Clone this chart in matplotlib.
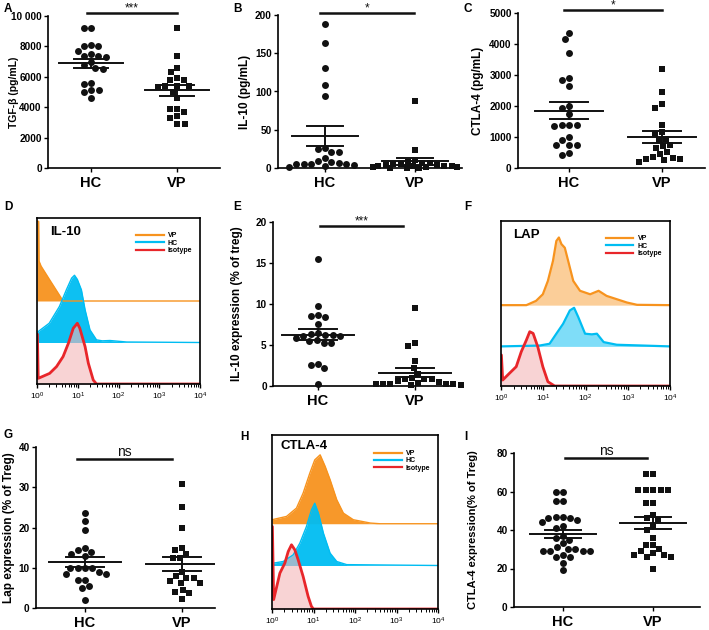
import numpy as np
import matplotlib.pyplot as plt
from matplotlib.lines import Line2D
from matplotlib import font_manager

names = {f.name for f in font_manager.fontManager.ttflist}
plt.rcParams['font.family'] = ['Liberation Sans', 'DejaVu Sans']
NARROW = ['Liberation Sans Narrow', 'Liberation Sans'] if 'Liberation Sans Narrow' in names else ['Liberation Sans']

# ---------------- scatter data ----------------
groups = ['HC', 'VP']

tgf_hc = [9200, 9200, 8100, 8000, 8000, 7700, 7500, 7400, 7400, 7300, 7000, 6800, 6600, 6500, 5600, 5500, 5100, 5100, 5000, 4600]
tgf_vp = [9200, 7400, 6600, 6300, 5900, 5800, 5800, 5400, 5400, 5400, 5300, 5000, 4600, 3900, 3900, 3700, 3400, 3300, 2900, 2900]

il10_hc = [188, 164, 131, 108, 94, 26, 25, 21, 21, 13, 9, 8, 6, 5, 5, 5, 5, 4, 3, 1]
il10_vp = [88, 24, 10, 8, 7, 6, 5, 5, 4, 4, 3, 3, 2, 2, 1, 1, 1, 0.5, 0.5, 0.5]

ctla_hc = [4350, 4150, 3700, 2900, 2850, 2650, 2000, 1950, 1750, 1400, 1400, 1400, 1350, 1000, 900, 750, 750, 750, 480, 420]
ctla_vp = [3200, 2450, 2050, 1950, 1400, 1150, 1100, 950, 900, 750, 700, 650, 500, 450, 350, 330, 300, 280, 250, 200]

il10exp_hc = [15.5, 9.8, 8.6, 8.5, 8.4, 7.6, 6.5, 6.4, 6.2, 6.2, 6.1, 6.1, 5.8, 5.6, 5.5, 5.3, 5.3, 2.7, 2.6, 2.2, 0.3]
il10exp_vp = [9.5, 5.2, 4.9, 3.1, 2.2, 1.5, 1.0, 0.9, 0.8, 0.8, 0.6, 0.5, 0.4, 0.3, 0.3, 0.2, 0.2, 0.2, 0.1, 0.1]

lap_hc = [23.5, 21.5, 19.5, 15, 14.5, 14, 13.5, 13, 10, 10, 10, 10, 9, 8.5, 8.5, 7, 7, 5.5, 5, 2]
lap_vp = [30.7, 25.2, 20, 15, 14.3, 13.5, 12.5, 12.5, 9, 8, 7.5, 7.5, 6.8, 6.3, 6.3, 4.5, 4, 3.7, 2.3]

ctlaexp_hc = [60, 60, 55, 55, 47, 47, 46, 46, 45, 44, 42, 41, 37, 36, 35, 33, 31, 30, 30, 29, 29, 29, 29, 27, 26, 26, 23, 19]
ctlaexp_vp = [69, 69, 61, 61, 61, 61, 61, 54, 54, 48, 46, 45, 42, 40, 36, 32, 32, 30, 29, 28, 27, 27, 26, 26, 20]

# ---------------- flow histograms: (log10 intensity, height) ----------------
d_vp_x = [0, 0.04, 0.05, 0.1, 0.31, 0.52, 0.64, 4]
d_vp_h = [48, 48, 24, 21, 12.8, 4.7, 0, 0]
d_hc_x = [0, 0.03, 0.3, 0.55, 0.72, 0.85, 0.92, 0.99, 1.09, 1.18, 1.3, 1.46, 1.6, 1.79, 2.2, 4]
d_hc_h = [0, 6.6, 11.6, 21.7, 31.7, 38.8, 40.5, 38, 31.7, 19.7, 7.6, 1.6, 1.0, 1.2, 0.3, 0]
d_iso_x = [0, 0.01, 0.03, 0.31, 0.48, 0.64, 0.77, 0.89, 0.99, 1.05, 1.18, 1.26, 1.38, 1.46, 4]
d_iso_h = [30, 30, 3.4, 6.4, 10.5, 16.5, 24.5, 33.6, 36.6, 33.6, 22.5, 12.5, 2.4, 0, 0]

f_vp_x = [0, 0.6, 0.83, 0.99, 1.11, 1.23, 1.31, 1.37, 1.43, 1.51, 1.59, 1.71, 1.87, 2.11, 2.31, 2.5, 2.74, 2.98, 3.22, 4]
f_vp_h = [0, 0, 2.6, 6.6, 14.7, 26.8, 38.9, 41, 37, 34.8, 26.8, 14.7, 8.7, 6.6, 8.7, 5.6, 3.6, 1.6, 0.2, 0]
f_hc_x = [0, 0.91, 1.15, 1.31, 1.47, 1.63, 1.73, 1.83, 1.99, 2.15, 2.27, 2.43, 2.74, 3.38, 4]
f_hc_h = [0, 0.5, 1.6, 7.7, 13.7, 21.8, 23.4, 17.7, 7.7, 7.3, 7.7, 2.6, 1.0, 0.5, 0]
f_iso_x = [0, 0.01, 0.04, 0.2, 0.36, 0.48, 0.6, 0.68, 0.76, 0.87, 0.99, 1.11, 1.27, 4]
f_iso_h = [18.8, 18.8, 3.6, 7.7, 11.7, 20.8, 27.8, 32.9, 31.9, 23.8, 11.7, 2.6, 0, 0]

h_vp_x = [0, 0.35, 0.59, 0.75, 0.91, 1.03, 1.16, 1.28, 1.4, 1.56, 1.72, 1.96, 2.37, 2.6, 4]
h_vp_h = [2.3, 4.2, 9, 17.6, 29, 36.7, 39.6, 33, 25.3, 13.8, 6.1, 2.3, 0.4, 0, 0]
h_hc_x = [0, 0.02, 0.27, 0.51, 0.67, 0.83, 0.95, 1.03, 1.12, 1.24, 1.4, 1.56, 1.8, 4]
h_hc_h = [0, 1.3, 2.3, 6.1, 12.8, 22.4, 31.9, 35.8, 30, 18.5, 7.1, 2.3, 0.5, 0]
h_iso_x = [0, 0.01, 0.04, 0.19, 0.31, 0.39, 0.47, 0.55, 0.63, 0.75, 0.87, 0.95, 1.0, 4]
h_iso_h = [47.4, 47.4, 5.4, 20.6, 26.4, 33, 36.9, 34, 28.3, 18.7, 7.3, 1.5, 0, 0]

ORANGE = '#F7931E'
BLUE = '#00BDF2'
RED = '#E8262A'
PINK = '#F4B6B8'

W, H = 709, 630
fig = plt.figure(figsize=(W / 100, H / 100), dpi=100)


def box(x0, x1, y0, y1):
    return fig.add_axes([x0 / W, 1 - y1 / H, (x1 - x0) / W, (y1 - y0) / H])


def swarm(vals, ypx, diam, cap):
    # beeswarm offsets in pixels, at most +-cap wide (points overlap beyond that)
    vals = np.asarray(vals, float)
    xs = np.zeros(len(vals))
    placed = []
    grid = np.linspace(-cap, cap, 41)
    for i in np.argsort(vals)[::-1]:
        y = vals[i] * ypx
        cands = [0.0]
        for xj, yj in placed:
            dy = abs(y - yj)
            if dy < diam:
                dx = np.sqrt(diam ** 2 - dy ** 2)
                cands += [xj - dx, xj + dx]
        cands = [c for c in cands if abs(c) <= cap]
        cands.sort(key=abs)
        chosen = None
        for c in cands:
            if all((c - xj) ** 2 + (y - yj) ** 2 >= diam ** 2 - 1e-6 for xj, yj in placed):
                chosen = c
                break
        if chosen is None:
            best = -1
            for g in grid:
                dmin = min((g - xj) ** 2 + (y - yj) ** 2 for xj, yj in placed)
                if dmin > best + 1e-9:
                    best, chosen = dmin, g
        xs[i] = chosen
        placed.append((chosen, y))
    return xs


def dot_panel(pos, hc_px, vp_px, hc, vp, ymax, yticks, ylabel, ylab_x, ylab_fs,
              sig, sig_y, sig_x, letter, letter_xy, ticklabels=None):
    x0, x1, y0, y1 = pos
    ax = box(x0, x1, y0, y1)
    unit = vp_px - hc_px
    ax.set_xlim(1 - (hc_px - x0) / unit, 2 + (x1 - vp_px) / unit)
    ax.set_ylim(0, ymax)
    ypx = (y1 - y0) / ymax
    for k, (vals, mk) in enumerate([(hc, 'o'), (vp, 's')]):
        vals = np.asarray(vals, float)
        off = swarm(vals, ypx, 7.5, 0.47 * unit) / unit
        ax.plot(1 + k + off, vals, mk, color='#111111', ms=5.0 if mk == 'o' else 4.6,
                mew=0, clip_on=False, zorder=3)
        m = vals.mean()
        sem = vals.std(ddof=1) / np.sqrt(len(vals))
        c = 1 + k
        ax.plot([c - 0.37, c + 0.37], [m, m], color='#111111', lw=1.4, zorder=4)
        ax.plot([c - 0.2, c + 0.2], [m + sem, m + sem], color='#111111', lw=1.4, zorder=4)
        ax.plot([c - 0.2, c + 0.2], [m - sem, m - sem], color='#111111', lw=1.4, zorder=4)
        ax.plot([c, c], [m - sem, m + sem], color='#111111', lw=1.4, zorder=4)
    for s in ['top', 'right']:
        ax.spines[s].set_visible(False)
    for s in ['left', 'bottom']:
        ax.spines[s].set_linewidth(1.2)
    ax.set_xticks([1, 2])
    ax.set_xticklabels(groups, fontsize=10.5, fontweight='bold')
    ax.set_yticks(yticks)
    if ticklabels is not None:
        ax.set_yticklabels(ticklabels)
    for t in ax.get_yticklabels():
        t.set_fontweight('bold')
        t.set_fontsize(7.2)
        t.set_family(NARROW)
    ax.tick_params(axis='both', direction='out', length=3, width=1)
    ax.tick_params(axis='x', pad=3)
    ax.tick_params(axis='y', pad=1.5)
    fig.text(ylab_x / W, 1 - (y0 + y1) / 2 / H, ylabel, rotation=90, ha='center', va='center',
             fontsize=ylab_fs, fontweight='bold')
    # significance bar
    ya = 1 - sig_y / H
    fig.add_artist(Line2D([sig_x[0] / W, sig_x[1] / W], [ya, ya], color='#111111', lw=1.8))
    off = 7 if sig == 'ns' else 5
    fig.text((sig_x[0] + sig_x[1]) / 2 / W, 1 - (sig_y - off) / H, sig, ha='center', va='center',
             fontsize=10 if sig == 'ns' else 8.5, color='#111111')
    fig.text(letter_xy[0] / W, 1 - letter_xy[1] / H, letter, ha='left', va='center',
             fontsize=8.5, fontweight='bold')
    return ax


def hist_panel(pos, title, title_xy, curves, letter, letter_xy, leg_anchor):
    x0, x1, y0, y1 = pos
    ax = box(x0, x1, y0, y1)
    ax.set_xscale('log')
    ax.set_xlim(1, 1e4)
    ax.set_ylim(0, 100)
    (vx, vh, vb), (hx, hh, hb), (ix, ih) = curves
    xv = 10 ** np.asarray(vx)
    ax.fill_between(xv, vb, vb + np.asarray(vh), color=ORANGE, alpha=0.95 if title != 'LAP' else 0.45,
                    lw=0)
    ax.plot(xv, vb + np.asarray(vh), color=ORANGE, lw=1.6 if title == 'LAP' else 1.0)
    xh = 10 ** np.asarray(hx)
    ax.fill_between(xh, hb, hb + np.asarray(hh), color=BLUE, alpha=0.95 if title != 'LAP' else 0.5, lw=0)
    ax.plot(xh, hb + np.asarray(hh), color=BLUE, lw=1.6 if title == 'LAP' else 1.0)
    xi = 10 ** np.asarray(ix)
    ax.fill_between(xi, 0, ih, color=PINK, alpha=0.6, lw=0)
    ax.plot(xi, ih, color=RED, lw=2.0, solid_joinstyle='round')
    for s in ax.spines.values():
        s.set_linewidth(1.2)
    ax.set_yticks([])
    ax.tick_params(axis='x', which='major', direction='out', length=3, width=1, labelsize=6, pad=2)
    ax.tick_params(axis='x', which='minor', direction='out', length=1.8, width=0.7)
    ax.text(title_xy[0], title_xy[1], title, transform=ax.transAxes, ha='left', va='top',
            fontsize=9.5, fontweight='bold')
    handles = [Line2D([], [], color=ORANGE, lw=1.6), Line2D([], [], color=BLUE, lw=1.6),
               Line2D([], [], color=RED, lw=1.6)]
    leg = ax.legend(handles, ['VP', 'HC', 'Isotype'], loc='upper right', bbox_to_anchor=leg_anchor,
                    frameon=False, fontsize=5, handlelength=4, labelspacing=0.05,
                    handletextpad=0.6, borderaxespad=0)
    for t in leg.get_texts():
        t.set_fontweight('bold')
    fig.text(letter_xy[0] / W, 1 - letter_xy[1] / H, letter, ha='left', va='center',
             fontsize=8.5, fontweight='bold')
    return ax


dot_panel((48, 220, 16, 168), 91, 177, tgf_hc, tgf_vp, 10000, [0, 2000, 4000, 6000, 8000, 10000],
          'TGF-β (pg/mL)', 14, 7.5, '***', 13, (87, 177), 'A', (4, 9),
          ticklabels=['0', '2000', '4000', '6000', '8000', '10 000'])
dot_panel((278, 462, 15, 168), 325, 415, il10_hc, il10_vp, 200, [0, 50, 100, 150, 200],
          'IL-10 (pg/mL)', 245, 8.5, '*', 13, (320, 414), 'B', (233, 9))
dot_panel((518, 705, 13, 168), 569, 662, ctla_hc, ctla_vp, 5000, [0, 1000, 2000, 3000, 4000, 5000],
          'CTLA-4 (pg/mL)', 478, 8.5, '*', 10, (564, 662), 'C', (464, 9))
dot_panel((273, 453, 222, 386), 318, 415, il10exp_hc, il10exp_vp, 20, [0, 5, 10, 15, 20],
          'IL-10 expression (% of treg)', 237, 8.5, '***', 226, (320, 403), 'E', (233, 207))
dot_panel((36, 215, 447, 608), 85, 182, lap_hc, lap_vp, 40, [0, 10, 20, 30, 40],
          'Lap expression (% of Treg)', 9, 8.5, 'ns', 459, (77, 172), 'G', (4, 435))
dot_panel((514, 700, 453, 607), 563, 653, ctlaexp_hc, ctlaexp_vp, 80, [0, 20, 40, 60, 80],
          'CTLA-4 expression(% of Treg)', 473, 8, 'ns', 458, (565, 647), 'I', (464, 437))

hist_panel((37, 200, 218, 384), 'IL-10', (0.08, 0.95),
           [(d_vp_x, d_vp_h, 50), (d_hc_x, d_hc_h, 25), (d_iso_x, d_iso_h)],
           'D', (4, 207), (0.97, 0.93))
hist_panel((501, 670, 221, 386), 'LAP', (0.07, 0.95),
           [(f_vp_x, f_vp_h, 49), (f_hc_x, f_hc_h, 24), (f_iso_x, f_iso_h)],
           'F', (464, 207), (0.97, 0.93))
hist_panel((272, 438, 435, 609), 'CTLA-4', (0.05, 0.97),
           [(h_vp_x, h_vp_h, 49), (h_hc_x, h_hc_h, 25), (h_iso_x, h_iso_h)],
           'H', (240, 437), (0.97, 0.93))

fig.savefig('out.png', dpi=100)
